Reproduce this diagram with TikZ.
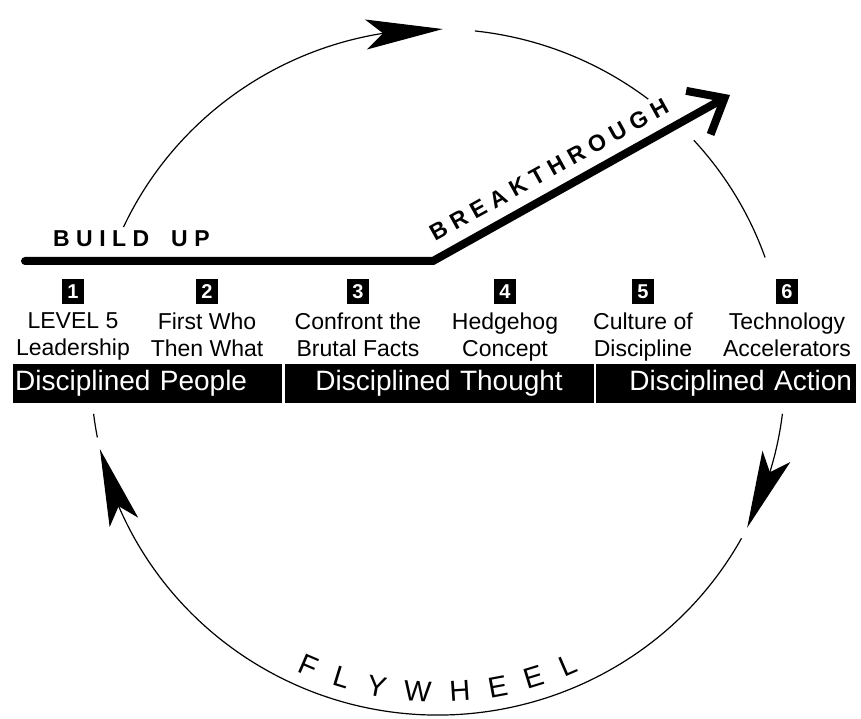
\documentclass[tikz,border=0pt]{standalone}
\usepackage{fontspec}
\setmainfont{Liberation Sans}
\usetikzlibrary{calc,positioning,arrows.meta,bending,decorations.text}

\newcommand\flyfont{\fontsize{29}{29}\selectfont}

\tikzset{
  rim/.style={x radius=347pt, y radius=343pt},
  wheel/.style={line width=1.2pt, >={Stealth[length=77pt,width=30pt,inset=17pt]}},
  growth/.style={line width=8pt, line cap=round, -{Straight Barb[length=30pt,width=50pt]}},
  stepnum/.style={fill=black, text=white, minimum width=22pt, minimum height=25pt, inner sep=0pt, font=\bfseries\fontsize{20}{20}\selectfont},
  steplabel/.style={align=center, inner sep=0pt, font=\fontsize{23}{27}\selectfont},
  group/.style={fill=black, text=white, minimum height=39pt, inner ysep=0pt, font=\fontsize{28}{28}\selectfont},
  stage/.style={inner sep=0pt, font=\bfseries\fontsize{23}{23}\selectfont\addfontfeature{LetterSpace=28}}
}

\begin{document}
\begin{tikzpicture}[x=1pt,y=1pt]
	\useasboundingbox (0,0) rectangle (861,718);
	\coordinate (hub) at (438,346);
	
	% flywheel rim
	\draw[wheel,->] ($(hub)+(155:347pt and 343pt)$) arc[rim,start angle=155,end angle=89.2];
	\draw[wheel] ($(hub)+(83.9:347pt and 343pt)$) arc[rim,start angle=83.9,end angle=52.7];
	\draw[wheel] ($(hub)+(42.5:347pt and 343pt)$) arc[rim,start angle=42.5,end angle=19.5];
	\draw[wheel,->] ($(hub)+(-7:347pt and 343pt)$) arc[rim,start angle=-7,end angle=-27];
	\draw[wheel,->] ($(hub)+(-29:347pt and 343pt)$) arc[rim,start angle=-29,end angle=-167];
	\draw[wheel] ($(hub)+(-173:347pt and 343pt)$) arc[rim,start angle=-173,end angle=-169];
	\path[decorate, decoration={text along path, text={|\flyfont|FLYWHEEL}, text align={fit to path}}]
		($(hub)+(245:334pt and 330pt)$) arc[start angle=245,end angle=295,x radius=334pt,y radius=330pt];
	
	% build up and breakthrough
	\coordinate (start) at (25,457);
	\coordinate (turn) at (433,457);
	\coordinate (peak) at (730,623);
	\draw[growth] (start) -- (turn) -- (peak);
	\node[stage, anchor=base west] (buildup) at (53,471) {BUILD\hspace{22pt}UP};
	\node[stage, anchor=base west, rotate=29] (breakthrough) at (435,476) {BREAKTHROUGH};
	
	% six steps
	\foreach \n/\x/\txt in {1/73/{LEVEL 5\\Leadership}, 2/207/{First Who\\Then What}, 3/358/{Confront the\\Brutal Facts}, 4/505/{Hedgehog\\Concept}, 5/643/{Culture of\\Discipline}, 6/787/{Technology\\Accelerators}} {
		\node[stepnum] (n\n) at (\x,426.5) {\n};
		\node[steplabel, below=8pt of n\n] (l\n) {\txt};
	}
	
	% three stages
	\node[group, text width=265pt, inner xsep=2pt, align=left, anchor=south west] (people) at (13,315) {Disciplined People};
	\node[group, text width=309pt, inner xsep=0pt, align=center, right=2pt of people] (thought) {Disciplined Thought};
	\node[group, text width=252pt, inner xsep=4pt, align=right, right=2pt of thought] (action) {Disciplined Action};
\end{tikzpicture}
\end{document}
